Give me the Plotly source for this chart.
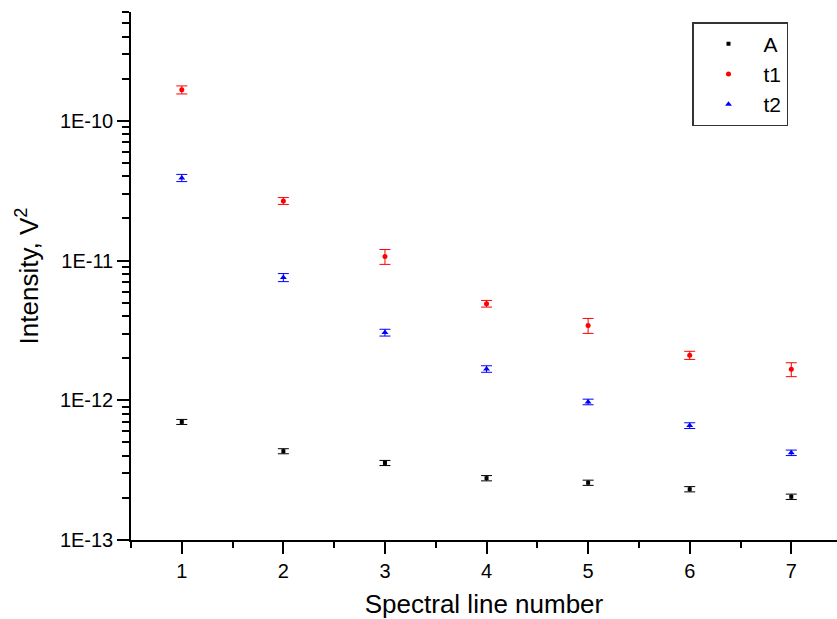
import plotly.graph_objects as go
import numpy as np

lines = [1, 2, 3, 4, 5, 6, 7]

A_vals = [7.0e-13, 4.32e-13, 3.56e-13, 2.77e-13, 2.57e-13, 2.31e-13, 2.04e-13]
A_err = [0.029e-12, 0.018e-12, 0.015e-12, 0.012e-12, 0.011e-12, 0.010e-12, 0.009e-12]

t1_vals = [1.665e-10, 2.67e-11, 1.068e-11, 4.91e-12, 3.43e-12, 2.10e-12, 1.665e-12]
t1_err = [1.1e-11, 1.5e-12, 1.3e-12, 0.27e-12, 0.42e-12, 0.14e-12, 0.19e-12]

t2_vals = [3.90e-11, 7.56e-12, 3.05e-12, 1.675e-12, 9.73e-13, 6.59e-13, 4.21e-13]
t2_err = [2.3e-12, 0.5e-12, 0.17e-12, 0.09e-12, 0.045e-12, 0.031e-12, 0.019e-12]

y_tickvals = [1e-13, 1e-12, 1e-11, 1e-10]
y_ticktext = ["1E-13", "1E-12", "1E-11", "1E-10"]
x_tickvals = [1, 2, 3, 4, 5, 6, 7]

series = [
    ("A", A_vals, A_err, "black", "square", 4),
    ("t1", t1_vals, t1_err, "red", "circle", 5),
    ("t2", t2_vals, t2_err, "blue", "triangle-up", 6),
]

fig = go.Figure()
for name, vals, errs, col, sym, sz in series:
    fig.add_trace(go.Scatter(
        x=lines, y=vals, mode="markers", name=name,
        marker=dict(color=col, symbol=sym, size=sz, line=dict(width=0)),
        error_y=dict(type="data", array=errs, color=col, thickness=1, width=5.5),
    ))

minor_y = [m * 10.0 ** e for e in range(-13, -9) for m in range(2, 10) if m * 10.0 ** e <= 6.01e-10]

fig.update_layout(
    width=837, height=619,
    margin=dict(l=131, r=0, t=12, b=79, autoexpand=False),
    paper_bgcolor="white", plot_bgcolor="white",
    font=dict(family="Liberation Sans, Arial, sans-serif", color="black"),
    showlegend=True,
    legend=dict(
        x=(692 - 131) / 706, y=(540 - 22) / 528, xanchor="left", yanchor="top",
        bgcolor="white", bordercolor="#333333", borderwidth=1.5,
        font=dict(size=21), itemwidth=60,
    ),
)
fig.update_xaxes(
    range=[0.5, 7.45], tickmode="array", tickvals=x_tickvals, automargin=False,
    showline=True, linecolor="black", linewidth=1.5,
    ticks="outside", ticklen=12, tickwidth=1.5, tickcolor="black",
    minor=dict(tickmode="linear", tick0=0.5, dtick=0.5, ticks="outside", ticklen=6, tickwidth=1.5, tickcolor="black"),
    showgrid=False, zeroline=False,
    tickfont=dict(size=20),
    title=dict(text="Spectral line number", font=dict(size=26), standoff=18),
)
fig.update_yaxes(
    type="log", range=[-13, np.log10(6e-10)], automargin=False,
    tickmode="array", tickvals=y_tickvals, ticktext=y_ticktext,
    showline=True, linecolor="black", linewidth=1.5,
    ticks="outside", ticklen=12, tickwidth=1.5, tickcolor="black",
    minor=dict(tickmode="array", tickvals=minor_y, ticks="outside", ticklen=7, tickwidth=1.5, tickcolor="black"),
    showgrid=False, zeroline=False,
    tickfont=dict(size=20),
    title=dict(text="Intensity, V<sup>2</sup>", font=dict(size=26), standoff=14),
)

fig.write_html(
    "out.html",
    config={"displayModeBar": False},
    post_script="document.body.style.margin='0';document.body.style.overflow='hidden';",
)
